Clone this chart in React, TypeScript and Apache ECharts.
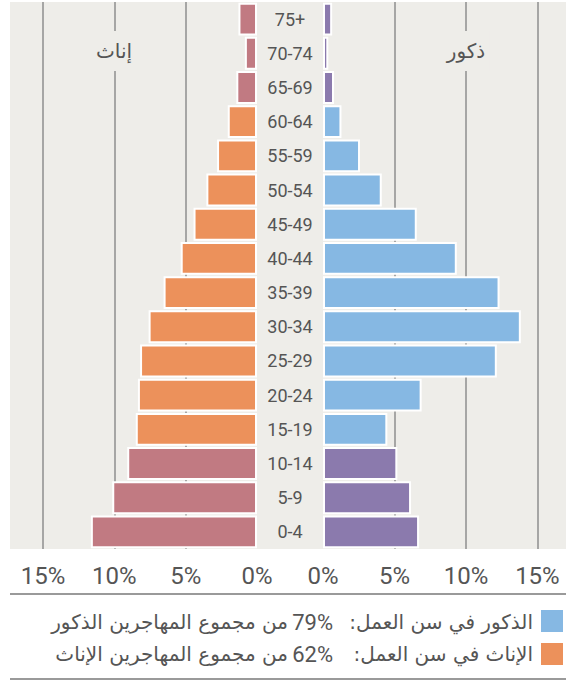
import React, { useEffect, useRef } from 'react';
import * as echarts from 'echarts';

const ageGroups = ['0-4', '5-9', '10-14', '15-19', '20-24', '25-29', '30-34', '35-39', '40-44', '45-49', '50-54', '55-59', '60-64', '65-69', '70-74', '75+'];
const femaleShare = [11.65, 10.15, 9.1, 8.5, 8.35, 8.2, 7.6, 6.55, 5.35, 4.45, 3.55, 2.8, 2.05, 1.45, 0.85, 1.3];
const maleShare = [6.72, 6.16, 5.2, 4.5, 6.9, 12.16, 13.84, 12.35, 9.36, 6.56, 4.11, 2.59, 1.29, 0.77, 0.37, 0.64];
const workingAgeGroups = ['15-19', '20-24', '25-29', '30-34', '35-39', '40-44', '45-49', '50-54', '55-59', '60-64'];
const panelTitles = { female: 'إناث', male: 'ذكور' };
const legendLabels = ['الذكور في سن العمل:', 'الإناث في سن العمل:'];
const legendValues = ['79%', '62%'];
const legendRest = ['من مجموع المهاجرين الذكور', 'من مجموع المهاجرين الإناث'];

const COLORS = {
  femaleWork: '#ec915b',
  femaleDep: '#c17a82',
  maleWork: '#86b8e3',
  maleDep: '#8b7aad',
  bg: '#eeede9',
  grid: '#8e8e8e',
  text: '#555555',
};
const NARROW = "Roboto, 'Liberation Sans', sans-serif";
const ARABIC = "'DejaVu Sans', 'Noto Sans', sans-serif";
const RLM = '\u200F';

export default function App() {
  const ref = useRef<HTMLDivElement>(null);
  useEffect(() => {
    if (!ref.current) return;
    const chart = echarts.init(ref.current, undefined, { renderer: 'svg' });
    const isWorking = (i: number) => workingAgeGroups.includes(ageGroups[i]);
    const xAxisBase = (gridIndex: number, max: number, inverse: boolean) => ({
      type: 'value',
      gridIndex,
      min: 0,
      max,
      interval: 5,
      inverse,
      axisLine: { show: false },
      axisTick: { show: false },
      splitLine: {
        show: true,
        showMinLine: false,
        showMaxLine: false,
        lineStyle: { color: COLORS.grid, width: 1.5 },
      },
      axisLabel: {
        formatter: '{value}%',
        showMaxLabel: false,
        fontSize: 24,
        fontFamily: NARROW,
        color: COLORS.text,
        margin: 15,
      },
    });
    const option: any = {
      animation: false,
      grid: [
        { left: 10, top: 2, width: 247, height: 547 },
        { left: 323, top: 2, width: 243, height: 547 },
      ],
      xAxis: [xAxisBase(0, 17.32, true), xAxisBase(1, 17.0, false)],
      yAxis: [
        {
          type: 'category',
          gridIndex: 0,
          data: ageGroups,
          axisLine: { show: false },
          axisTick: { show: false },
          axisLabel: { show: false },
          splitLine: { show: false },
        },
        {
          type: 'category',
          gridIndex: 1,
          data: ageGroups,
          axisLine: { show: false },
          axisTick: { show: false },
          splitLine: { show: false },
          axisLabel: {
            show: true,
            align: 'center',
            margin: 33,
            fontSize: 18,
            fontFamily: NARROW,
            color: COLORS.text,
          },
        },
      ],
      series: [
        {
          type: 'bar',
          xAxisIndex: 0,
          yAxisIndex: 0,
          barCategoryGap: '4%',
          data: femaleShare.map((v, i) => ({
            value: v,
            itemStyle: { color: isWorking(i) ? COLORS.femaleWork : COLORS.femaleDep },
          })),
          itemStyle: { borderColor: '#ffffff', borderWidth: 2 },
        },
        {
          type: 'bar',
          xAxisIndex: 1,
          yAxisIndex: 1,
          barCategoryGap: '4%',
          data: maleShare.map((v, i) => ({
            value: v,
            itemStyle: { color: isWorking(i) ? COLORS.maleWork : COLORS.maleDep },
          })),
          itemStyle: { borderColor: '#ffffff', borderWidth: 2 },
        },
      ],
      graphic: [
        { type: 'rect', z: -10, shape: { x: 10, y: 2, width: 556, height: 547 }, style: { fill: COLORS.bg } },
        {
          type: 'text', z: 10, x: 114, y: 51,
          style: {
            text: panelTitles.female, align: 'center', verticalAlign: 'middle',
            font: `20px ${ARABIC}`, fill: COLORS.text, backgroundColor: COLORS.bg, padding: [10, 4],
          },
        },
        {
          type: 'text', z: 10, x: 466, y: 51,
          style: {
            text: panelTitles.male, align: 'center', verticalAlign: 'middle',
            font: `20px ${ARABIC}`, fill: COLORS.text, backgroundColor: COLORS.bg, padding: [10, 4],
          },
        },
        { type: 'line', shape: { x1: 10, y1: 594, x2: 566, y2: 594 }, style: { stroke: '#9a9a9a', lineWidth: 2 } },
        { type: 'line', shape: { x1: 10, y1: 679, x2: 566, y2: 679 }, style: { stroke: '#9a9a9a', lineWidth: 2 } },
        { type: 'rect', shape: { x: 541, y: 610, width: 22, height: 22 }, style: { fill: COLORS.maleWork } },
        { type: 'rect', shape: { x: 541, y: 643, width: 22, height: 22 }, style: { fill: COLORS.femaleWork } },
        ...[0, 1].flatMap((r) => {
          const y = r === 0 ? 622 : 654;
          return [
            {
              type: 'text', x: 533, y,
              style: { text: legendLabels[r] + RLM, align: 'right', verticalAlign: 'middle', font: `20px ${ARABIC}`, fill: COLORS.text },
            },
            {
              type: 'text', x: 333, y,
              style: { text: legendValues[r], align: 'right', verticalAlign: 'middle', font: `22px ${NARROW}`, fill: COLORS.text },
            },
            {
              type: 'text', x: 288, y,
              style: { text: legendRest[r], align: 'right', verticalAlign: 'middle', font: `20px ${ARABIC}`, fill: COLORS.text },
            },
          ];
        }),
      ],
    };
    chart.setOption(option);
    return () => chart.dispose();
  }, []);
  return <div ref={ref} style={{ position: 'absolute', left: 0, top: 0, width: 566, height: 682 }} />;
}
